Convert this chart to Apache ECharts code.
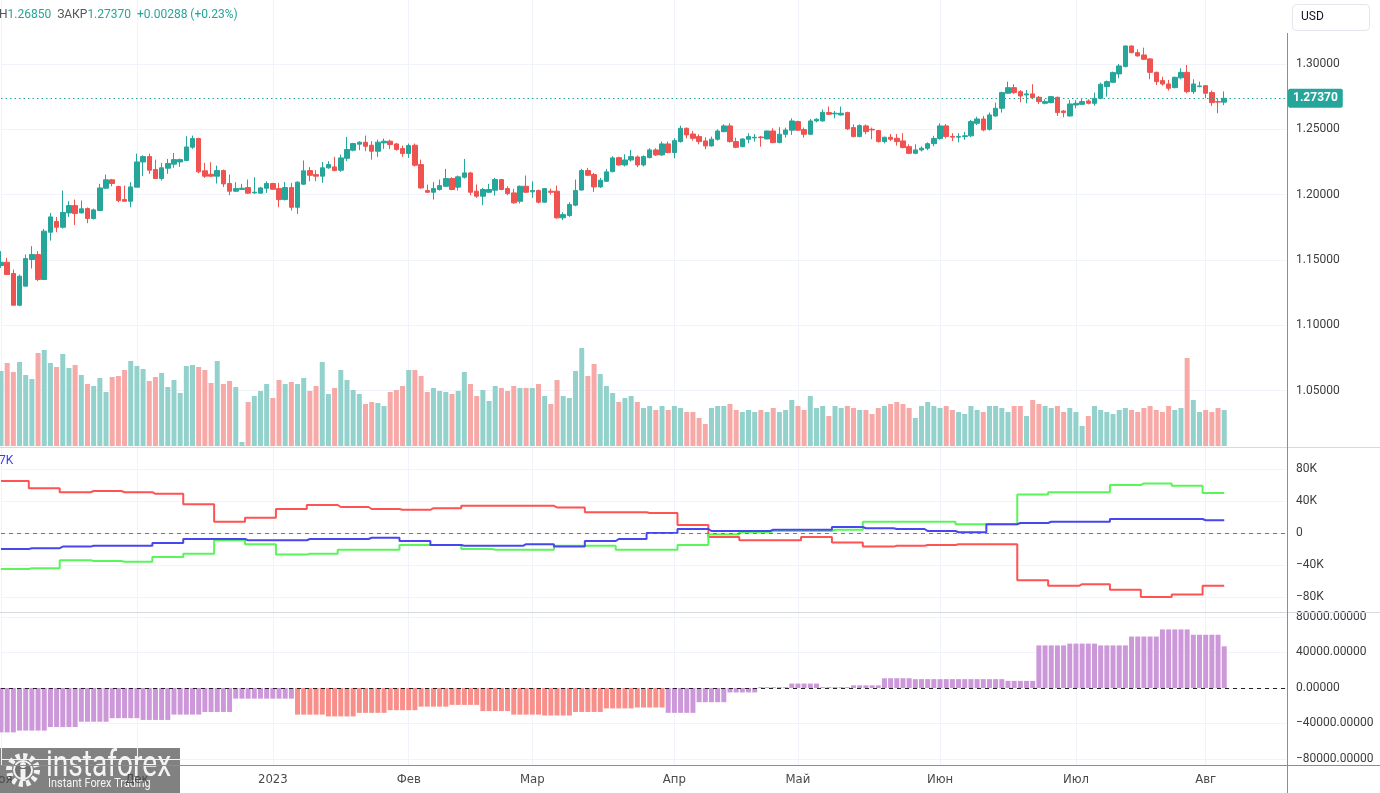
<!DOCTYPE html>
<html><head><meta charset="utf-8">
<script src="https://cdn.jsdelivr.net/npm/echarts@6/dist/echarts.min.js"></script>
<style>html,body{margin:0;padding:0;background:#fff}#c{width:1380px;height:793px}</style>
</head><body><div id="c"></div>
<script>
// ---- daily OHLC, GBP/USD, 2022-11-01 .. 2023-08-04 (weekdays) ----
const open = [1.1457,1.1482,1.1396,1.1153,1.1299,1.1503,1.1541,1.1350,1.1712,1.1794,
1.1750,1.1860,1.1916,1.1860,1.1893,1.1817,1.1878,1.2049,1.2113,1.2062,
1.1962,1.1949,1.2057,1.2250,1.2291,1.2192,1.2123,1.2202,1.2233,1.2250,
1.2261,1.2363,1.2429,1.2182,1.2156,1.2141,1.2184,1.2085,1.2026,1.2039,
1.2054,1.2013,1.2011,1.2049,1.2085,1.2046,1.1962,1.2054,1.1903,1.2080,
1.2184,1.2153,1.2141,1.2205,1.2212,1.2187,1.2278,1.2340,1.2386,1.2401,
1.2378,1.2332,1.2396,1.2409,1.2388,1.2353,1.2314,1.2378,1.2230,1.2031,
1.2018,1.2039,1.2064,1.2123,1.2057,1.2133,1.2166,1.2026,1.1988,1.2018,
1.2034,1.2115,1.2046,1.2013,1.1949,1.2064,1.2021,1.2031,1.1942,1.2026,
1.2026,1.1822,1.1840,1.1919,1.2035,1.2184,1.2153,1.2059,1.2102,1.2176,
1.2283,1.2227,1.2265,1.2288,1.2227,1.2283,1.2342,1.2304,1.2388,1.2322,
1.2406,1.2508,1.2464,1.2444,1.2411,1.2373,1.2424,1.2482,1.2526,1.2406,
1.2367,1.2424,1.2434,1.2441,1.2426,1.2487,1.2398,1.2462,1.2493,1.2559,
1.2498,1.2462,1.2564,1.2564,1.2628,1.2618,1.2610,1.2628,1.2513,1.2444,
1.2526,1.2500,1.2490,1.2406,1.2439,1.2431,1.2411,1.2367,1.2316,1.2342,
1.2355,1.2390,1.2430,1.2526,1.2445,1.2440,1.2445,1.2450,1.2546,1.2579,
1.2500,1.2602,1.2661,1.2776,1.2819,1.2788,1.2763,1.2771,1.2745,1.2699,
1.2704,1.2745,1.2640,1.2602,1.2686,1.2691,1.2717,1.2699,1.2737,1.2827,
1.2860,1.2924,1.2980,1.3138,1.3087,1.3069,1.3039,1.2936,1.2873,1.2847,
1.2819,1.2894,1.2936,1.2788,1.2827,1.2834,1.2781,1.2712,1.2708];
const close = [1.1482,1.1388,1.1153,1.1375,1.1510,1.1541,1.1350,1.1720,1.1829,1.1750,
1.1863,1.1916,1.1855,1.1891,1.1817,1.1883,1.2051,1.2113,1.2085,1.1954,
1.1949,1.2059,1.2250,1.2291,1.2187,1.2123,1.2205,1.2238,1.2268,1.2268,
1.2365,1.2429,1.2174,1.2141,1.2141,1.2184,1.2082,1.2026,1.2046,1.2049,
1.2011,1.2018,1.2051,1.2085,1.2041,1.1962,1.2054,1.1903,1.2095,1.2182,
1.2148,1.2141,1.2205,1.2230,1.2184,1.2281,1.2345,1.2391,1.2401,1.2370,
1.2332,1.2401,1.2409,1.2383,1.2345,1.2314,1.2375,1.2225,1.2051,1.2018,
1.2046,1.2069,1.2123,1.2039,1.2136,1.2166,1.2018,1.1988,1.2039,1.2039,
1.2115,1.2039,1.2008,1.1937,1.2064,1.2018,1.2031,1.1942,1.2046,1.2018,
1.1822,1.1847,1.1924,1.2031,1.2184,1.2148,1.2059,1.2110,1.2174,1.2281,
1.2227,1.2265,1.2291,1.2227,1.2291,1.2342,1.2304,1.2388,1.2322,1.2413,
1.2508,1.2457,1.2431,1.2406,1.2373,1.2424,1.2487,1.2526,1.2406,1.2362,
1.2426,1.2444,1.2439,1.2436,1.2487,1.2398,1.2462,1.2495,1.2564,1.2493,
1.2462,1.2564,1.2577,1.2630,1.2615,1.2623,1.2623,1.2503,1.2444,1.2528,
1.2482,1.2495,1.2406,1.2439,1.2424,1.2406,1.2360,1.2316,1.2342,1.2355,
1.2390,1.2430,1.2526,1.2445,1.2440,1.2445,1.2450,1.2559,1.2579,1.2495,
1.2610,1.2661,1.2781,1.2819,1.2781,1.2755,1.2771,1.2742,1.2712,1.2712,
1.2750,1.2628,1.2628,1.2694,1.2699,1.2712,1.2699,1.2737,1.2845,1.2865,
1.2934,1.2985,1.3138,1.3087,1.3062,1.3036,1.2936,1.2865,1.2847,1.2814,
1.2898,1.2936,1.2788,1.2847,1.2832,1.2776,1.2704,1.27082,1.27370];
const low = [1.1439,1.1388,1.1153,1.1145,1.1299,1.1434,1.1337,1.1350,1.1648,1.1712,
1.1740,1.1829,1.1766,1.1855,1.1781,1.1809,1.1878,1.2046,1.2064,1.1942,
1.1949,1.1903,1.2057,1.2141,1.2159,1.2123,1.2108,1.2159,1.2205,1.2212,
1.2256,1.2350,1.2164,1.2128,1.2133,1.2085,1.2059,1.1995,1.2020,1.2035,
1.2005,1.2005,1.2008,1.2013,1.2039,1.1903,1.1955,1.1878,1.1852,1.2075,
1.2102,1.2102,1.2090,1.2197,1.2179,1.2174,1.2256,1.2332,1.2340,1.2332,
1.2268,1.2289,1.2350,1.2350,1.2337,1.2289,1.2281,1.2215,1.2045,1.2013,
1.1962,1.2031,1.2058,1.2033,1.2031,1.2123,1.1995,1.1975,1.1919,1.2012,
1.1993,1.2033,1.1995,1.1930,1.1932,1.2013,1.1975,1.1932,1.1938,1.2000,
1.1815,1.1804,1.1829,1.1911,1.2030,1.2141,1.2021,1.2051,1.2097,1.2170,
1.2220,1.2215,1.2253,1.2210,1.2215,1.2278,1.2296,1.2296,1.2316,1.2278,
1.2398,1.2431,1.2413,1.2385,1.2347,1.2367,1.2413,1.2477,1.2398,1.2355,
1.2362,1.2393,1.2406,1.2367,1.2424,1.2393,1.2393,1.2436,1.2457,1.2487,
1.2436,1.2458,1.2554,1.2559,1.2610,1.2584,1.2605,1.2495,1.2439,1.2439,
1.2462,1.2424,1.2398,1.2393,1.2411,1.2375,1.2355,1.2309,1.2309,1.2330,
1.2340,1.2370,1.2420,1.2430,1.2410,1.2400,1.2420,1.2440,1.2533,1.2485,
1.2490,1.2597,1.2628,1.2771,1.2771,1.2707,1.2699,1.2730,1.2694,1.2691,
1.2699,1.2602,1.2592,1.2598,1.2661,1.2686,1.2691,1.2681,1.2730,1.2750,
1.2857,1.2891,1.2975,1.3082,1.3056,1.3031,1.2883,1.2839,1.2834,1.2796,
1.2814,1.2883,1.2776,1.2771,1.2822,1.2737,1.2679,1.2623,1.26850];
const high = [1.1567,1.1516,1.1426,1.1388,1.1541,1.1605,1.1567,1.1737,1.1860,1.1829,
1.2031,1.1949,1.1962,1.1954,1.1901,1.1893,1.2082,1.2153,1.2120,1.2069,
1.2069,1.2095,1.2314,1.2301,1.2314,1.2268,1.2243,1.2273,1.2319,1.2276,
1.2447,1.2452,1.2435,1.2243,1.2248,1.2222,1.2192,1.2153,1.2095,1.2082,
1.2115,1.2133,1.2059,1.2102,1.2090,1.2090,1.2097,1.2090,1.2102,1.2261,
1.2210,1.2187,1.2250,1.2256,1.2289,1.2307,1.2442,1.2396,1.2409,1.2452,
1.2409,1.2421,1.2429,1.2421,1.2396,1.2375,1.2391,1.2391,1.2268,1.2077,
1.2097,1.2115,1.2197,1.2133,1.2146,1.2273,1.2174,1.2077,1.2051,1.2082,
1.2128,1.2120,1.2064,1.2044,1.2069,1.2146,1.2102,1.2039,1.2051,1.2046,
1.2069,1.1865,1.1942,1.2115,1.2197,1.2205,1.2166,1.2128,1.2197,1.2294,
1.2290,1.2309,1.2342,1.2300,1.2300,1.2355,1.2355,1.2406,1.2406,1.2431,
1.2528,1.2513,1.2487,1.2462,1.2439,1.2444,1.2500,1.2538,1.2546,1.2436,
1.2431,1.2470,1.2464,1.2449,1.2490,1.2508,1.2516,1.2513,1.2584,1.2566,
1.2513,1.2579,1.2584,1.2653,1.2674,1.2640,1.2674,1.2635,1.2538,1.2538,
1.2538,1.2513,1.2495,1.2444,1.2464,1.2464,1.2470,1.2385,1.2385,1.2370,
1.2400,1.2450,1.2546,1.2541,1.2470,1.2470,1.2480,1.2572,1.2597,1.2602,
1.2628,1.2704,1.2788,1.2865,1.2845,1.2801,1.2801,1.2845,1.2755,1.2730,
1.2755,1.2750,1.2648,1.2725,1.2725,1.2737,1.2730,1.2781,1.2857,1.2873,
1.2942,1.3000,1.3142,1.3142,1.3113,1.3125,1.3045,1.2942,1.2903,1.2878,
1.2903,1.2967,1.2993,1.2883,1.2865,1.2839,1.2796,1.2737,1.2790];
// ---- daily volume (relative units) ----
const volume = [75,83,74,84,71,67,93,96,83,79,92,78,81,71,62,60,68,54,69,70,
76,85,80,77,65,69,73,59,66,53,80,81,79,76,63,85,62,65,59,4,
44,50,55,62,48,66,62,64,62,68,55,60,84,52,58,76,66,56,52,42,
44,43,40,54,56,60,76,76,70,54,58,55,54,52,55,74,62,50,56,45,
60,58,55,60,58,58,58,62,50,42,66,50,48,75,98,70,82,72,60,53,
44,48,50,44,38,40,36,40,36,40,38,34,34,28,22,38,40,40,42,36,
34,36,34,36,34,38,34,36,46,40,36,50,38,40,30,40,38,40,38,36,
36,32,38,40,42,44,42,38,28,40,44,40,38,40,36,34,32,40,36,34,
40,40,38,34,40,40,30,46,42,40,38,40,34,38,34,20,30,40,36,34,
32,36,38,36,34,38,40,36,34,40,36,38,88,46,34,36,34,38,36];
// ---- weekly COT positions (thousands of contracts) ----
const cotRed = [65,56,51,52.5,51,49,36,14,19,30,35,32.5,30,29,31,34,34,34,32,26,
26,25,10,-5,-9,-9,-5,-12,-17,-16,-15,-14,-14,-59,-66,-64,-71,-80,-77,-66];
const cotGreen = [-45,-44,-34,-35,-36,-30,-26,-9,-14,-27,-26,-21,-21,-15,-15,-20,-21,-21,-16,-16,
-21,-21,-15,-2,1,2.5,2.5,4,14,14,14,11,11,48,51,51,60,62,59,50];
const cotBlue = [-20,-19,-17,-16,-16,-12.5,-7.5,-7.5,-9,-9,-7.5,-7.5,-6,-10,-15,-16,-16,-14,-17,-10,
-7.5,0,5,2.5,2.5,4,4,7.5,6,5,2.5,1,11,12.5,14,14,17.5,17.5,17.5,16];
// ---- weekly net histogram (contracts) and its phase (0 = first tone, 1 = second tone) ----
const hist = [-50000,-48000,-44000,-38000,-34000,-36000,-30000,-27000,-12000,-12000,
-30000,-32000,-28000,-25000,-21000,-19000,-26000,-30000,-31000,-27000,
-23000,-22000,-28000,-16000,-5000,1000,5000,1000,3000,11000,
10000,10000,10000,8000,48000,50000,48000,58000,66000,60000,47000];
const histPhase = [0,0,0,0,0,0,0,0,0,0,1,1,1,1,1,1,1,1,1,1,1,1,0,0,0,0,0,0,0,0,0,0,0,0,0,0,0,0,0,0,0];
// ---- tick labels ----
const priceTicks = [1.05,1.10,1.15,1.20,1.25,1.30];
const cotTicks = [-80000,-40000,0,40000,80000];
const histTicks = [-80000,-40000,0,40000,80000];
const monthNames = ['2023','Фев','Мар','Апр','Май','Июн','Июл','Авг','Сен','Окт','Ноя','Дек'];
const lastPrice = 1.27370;

// categories: weekdays from 2022-11-01 (199 bars + empty space on the right)
const dates = (() => { const out = []; let t = Date.UTC(2022,10,1);
  while (out.length < 209) { const d = new Date(t); const w = d.getUTCDay();
    if (w !== 0 && w !== 6) out.push(d.toISOString().slice(0,10)); t += 86400000; }
  return out; })();
const isMonthStart = i => i === 0 || dates[i].slice(0,7) !== dates[i-1].slice(0,7);

const UP = '#26a69a', DN = '#ef5350';
const VUP = '#93d2cc', VDN = '#f7a9a7';
const HP = '#cd98da', HR = '#f98f8a';
const GRID = '#f0f3fa';
const N = open.length;

const candleData = open.map((o,i) => [o, close[i], low[i], high[i]]);
const volData = volume.map((v,i) => ({value: v, itemStyle: {color: close[i] >= open[i] ? VUP : VDN}}));
const weekly = arr => Array.from({length: N}, (_, i) => arr[Math.floor(i/5)] * 1000);
const histData = Array.from({length: N}, (_, i) => {
  const b = i < 3 ? 0 : Math.floor((i-3)/5) + 1;
  return {value: hist[b], itemStyle: {color: histPhase[b] ? HR : HP}};
});

const L = 1, W = 1285;
const xBase = (gi, showLabels) => ({
  type: 'category', gridIndex: gi, data: dates, boundaryGap: false,
  axisLine: {show: false}, axisTick: {show: false},
  axisLabel: showLabels ? {
    interval: (i) => isMonthStart(i), margin: 8, hideOverlap: false,
    alignMinLabel: 'center', alignMaxLabel: 'center',
    fontFamily: 'Liberation Sans Narrow, DejaVu Sans Condensed, sans-serif', fontSize: 13, color: '#4a4a4a',
    formatter: (v) => { const m = +v.slice(5,7); return (m === 1) ? v.slice(0,4) : monthNames[m-1]; }
  } : {show: false},
  splitLine: gi === 1 ? {show: false} : {show: true, interval: (i) => isMonthStart(i), lineStyle: {color: GRID, width: 1}}
});
const lblStyle = {fontFamily: 'Roboto, sans-serif', fontSize: 12, color: '#3d3d3d', margin: 10,
  verticalAlign: 'middle', lineHeight: 16, padding: [3, 0, 0, 0]};
const minus = s => s.replace('-', '\u2212');
const gridBase = {left: L, width: W, outerBoundsMode: 'none', containLabel: false};

const option = {
  animation: false,
  backgroundColor: '#fff',
  grid: [
    Object.assign({top: 0, height: 447}, gridBase),
    Object.assign({top: 346, height: 100}, gridBase),
    Object.assign({top: 448, height: 164}, gridBase),
    Object.assign({top: 612, height: 153}, gridBase)
  ],
  xAxis: [xBase(0,false), xBase(1,false), xBase(2,false), xBase(3,true)],
  yAxis: [
    {type: 'value', gridIndex: 0, position: 'right', min: 1.00674, max: 1.34900, scale: true,
     axisLine: {show: false}, axisTick: {show: false, customValues: priceTicks},
     axisLabel: Object.assign({customValues: priceTicks, formatter: v => v.toFixed(5)}, lblStyle),
     splitLine: {show: true, lineStyle: {color: GRID}}},
    {type: 'value', gridIndex: 1, min: 0, max: 100, show: false, splitLine: {show: false}},
    {type: 'value', gridIndex: 2, position: 'right', min: -98750, max: 106250,
     axisLine: {show: false}, axisTick: {show: false, customValues: cotTicks},
     axisLabel: Object.assign({customValues: cotTicks, formatter: v => v === 0 ? '0' : minus((v/1000) + 'K')}, lblStyle),
     splitLine: {show: true, lineStyle: {color: GRID}}},
    {type: 'value', gridIndex: 3, position: 'right', min: -86760, max: 85630,
     axisLine: {show: false}, axisTick: {show: false, customValues: histTicks},
     axisLabel: Object.assign({customValues: histTicks, formatter: v => minus(v.toFixed(5))}, lblStyle),
     splitLine: {show: true, lineStyle: {color: GRID}}}
  ],
  series: [
    {type: 'bar', xAxisIndex: 1, yAxisIndex: 1, data: volData, barWidth: 5, z: 1},
    {type: 'candlestick', xAxisIndex: 0, yAxisIndex: 0, data: candleData, barWidth: 5, z: 3,
     itemStyle: {color: UP, color0: DN, borderColor: UP, borderColor0: DN, borderWidth: 1},
     markLine: {silent: true, symbol: 'none', animation: false, precision: 5,
       lineStyle: {type: [1.5, 3], color: UP, width: 1},
       label: {show: true, position: 'end', distance: 2, formatter: lastPrice.toFixed(5),
         backgroundColor: UP, color: '#fff', fontWeight: 'bold', fontFamily: 'Roboto, sans-serif',
         fontSize: 12, padding: [4, 5, 3, 5], borderRadius: 2},
       data: [{yAxis: lastPrice}]}},
    {type: 'line', xAxisIndex: 2, yAxisIndex: 2, data: weekly(cotRed), step: 'middle', showSymbol: false,
     lineStyle: {color: '#ff5252', width: 2}, z: 3,
     markLine: {silent: true, symbol: 'none', precision: 0, lineStyle: {type: [4, 4], color: '#787b86', width: 1},
       label: {show: false}, data: [{yAxis: 0}]}},
    {type: 'line', xAxisIndex: 2, yAxisIndex: 2, data: weekly(cotGreen), step: 'middle', showSymbol: false,
     lineStyle: {color: '#59f559', width: 2}, z: 3},
    {type: 'line', xAxisIndex: 2, yAxisIndex: 2, data: weekly(cotBlue), step: 'middle', showSymbol: false,
     lineStyle: {color: '#4747f0', width: 2}, z: 4},
    {type: 'bar', xAxisIndex: 3, yAxisIndex: 3, data: histData, barWidth: 5, z: 2,
     markLine: {silent: true, symbol: 'none', precision: 0, lineStyle: {type: [4, 4], color: '#222', width: 1},
       label: {show: false}, data: [{yAxis: 0}]}}
  ],
  graphic: [
    {type: 'line', shape: {x1: 0, y1: 447.5, x2: 1380, y2: 447.5}, style: {stroke: '#d6d9e0', lineWidth: 1}, z: 50},
    {type: 'line', shape: {x1: 0, y1: 612.5, x2: 1380, y2: 612.5}, style: {stroke: '#d6d9e0', lineWidth: 1}, z: 50},
    {type: 'line', shape: {x1: 0, y1: 765.5, x2: 1380, y2: 765.5}, style: {stroke: '#8a8d95', lineWidth: 1}, z: 50},
    {type: 'line', shape: {x1: 1287.5, y1: 33, x2: 1287.5, y2: 793}, style: {stroke: '#8a8d95', lineWidth: 1}, z: 50},
    {type: 'rect', shape: {x: 1292.5, y: 4.5, width: 77, height: 26, r: 4}, style: {fill: '#fff', stroke: '#e3e6ec', lineWidth: 1}, z: 50},
    {type: 'text', x: 1301, y: 17, style: {text: 'USD', fill: '#131722', font: '12px Roboto, sans-serif', verticalAlign: 'middle'}, z: 51},
    {type: 'text', x: -1, y: 15, z: 51, style: {
      text: 'Н{v|1.26850}  ЗАКР{v|1.27370}  {v|+0.00288 (+0.23%)}', fill: '#555',
      font: '12px Roboto, sans-serif', verticalAlign: 'middle',
      rich: {v: {fill: UP, font: '12px Roboto, sans-serif'}}}},
    {type: 'text', x: -1, y: 461, style: {text: '7K', fill: '#3b3bf0', font: '12px Roboto, sans-serif', verticalAlign: 'middle'}, z: 51},
    // watermark logo
    {type: 'group', z: 100, children: [
      {type: 'rect', shape: {x: 0, y: 748, width: 180, height: 45}, style: {fill: 'rgba(112,112,112,0.88)'}},
      {type: 'circle', shape: {cx: 23, cy: 770, r: 14}, style: {fill: 'none', stroke: '#f2f2f2', lineWidth: 6, lineDash: [4, 3.3]}},
      {type: 'circle', shape: {cx: 23, cy: 770, r: 9}, style: {fill: 'rgba(112,112,112,1)', stroke: '#f2f2f2', lineWidth: 2}},
      {type: 'circle', shape: {cx: 23, cy: 765, r: 3}, style: {fill: '#f2f2f2'}},
      {type: 'rect', shape: {x: 20.5, y: 769, width: 5, height: 12}, style: {fill: '#f2f2f2'}},
      {type: 'text', x: 46, y: 749, scaleX: 0.78, style: {text: 'instaforex', fill: '#f4f4f4', font: '36px Roboto, sans-serif'}},
      {type: 'text', x: 48, y: 777, scaleX: 0.84, style: {text: 'Instant Forex Trading', fill: '#f4f4f4', font: '13px Roboto, sans-serif'}}
    ]}
  ]
};
const chart = echarts.init(document.getElementById('c'), null, {renderer: 'canvas'});
chart.setOption(option);
</script>
</body></html>
